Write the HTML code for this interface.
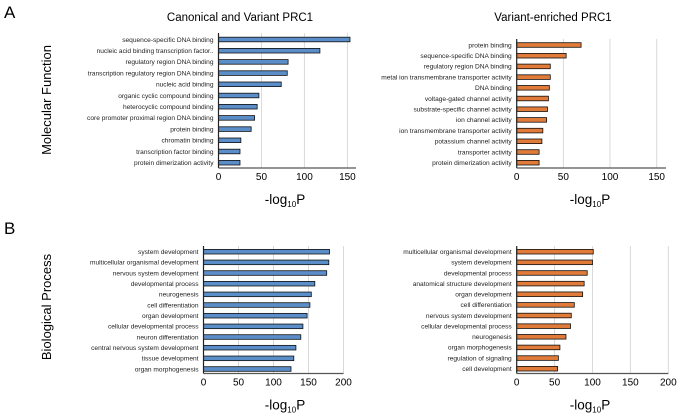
<!DOCTYPE html>
<html><head><meta charset="utf-8"><style>
html,body{margin:0;padding:0;background:#fff;}
svg{display:block;font-family:"Liberation Sans",Arial,sans-serif;}
</style></head><body>
<svg id="fig" width="679" height="417" viewBox="0 0 679 417">
<text x="4" y="18" font-size="17">A</text>
<text x="4" y="234" font-size="17">B</text>
<text transform="translate(51,100) rotate(-90)" text-anchor="middle" font-size="13">Molecular Function</text>
<text transform="translate(51,307) rotate(-90)" text-anchor="middle" font-size="13">Biological Process</text>
<text x="240" y="21" text-anchor="middle" font-size="11.5">Canonical and Variant PRC1</text>
<text x="553" y="21" text-anchor="middle" font-size="11.5">Variant-enriched PRC1</text>
</svg>
<script>
const mfCanonCats = ["sequence-specific DNA binding","nucleic acid binding transcription factor..","regulatory region DNA binding","transcription regulatory region DNA binding","nucleic acid binding","organic cyclic compound binding","heterocyclic compound binding","core promoter proximal region DNA binding","protein binding","chromatin binding","transcription factor binding","protein dimerization activity"];
const mfCanonVals = [153,118,81,80,73,47,45,42,38,26,25,25];
const mfVarCats = ["protein binding","sequence-specific DNA binding","regulatory region DNA binding","metal ion transmembrane transporter activity","DNA binding","voltage-gated channel activity","substrate-specific channel activity","ion channel activity","ion transmembrane transporter activity","potassium channel activity","transporter activity","protein dimerization activity"];
const mfVarVals = [69,53,36,36,35,34,33,32,28,27,24,24];
const bpCanonCats = ["system development","multicellular organismal development","nervous system development","developmental process","neurogenesis","cell differentiation","organ development","cellular developmental process","neuron differentiation","central nervous system development","tissue development","organ morphogenesis"];
const bpCanonVals = [180,179,176,159,154,152,148,142,139,132,129,125];
const bpVarCats = ["multicellular organismal development","system development","developmental process","anatomical structure development","organ development","cell differentiation","nervous system development","cellular developmental process","neurogenesis","organ morphogenesis","regulation of signaling","cell development"];
const bpVarVals = [101,100,93,89,87,76,72,71,65,57,55,54];
const mfTicks = [0,50,100,150];
const bpTicks = [0,50,100,150,200];

const NS="http://www.w3.org/2000/svg";
const svg=document.getElementById('fig');
function mk(tag,attrs){const e=document.createElementNS(NS,tag);for(const k in attrs)e.setAttribute(k,attrs[k]);svg.appendChild(e);return e;}

function chart(id,cats,vals,ticks,cfg){
  const sx=v=>cfg.x0+(v/cfg.max)*(cfg.x1-cfg.x0);
  const step=(cfg.yLast-cfg.yFirst)/(cats.length-1);
  const sy=i=>cfg.yFirst+i*step;
  ticks.forEach(t=>{
    if(t>0){
      const g=mk('line',{x1:sx(t),x2:sx(t),y1:cfg.yTop,y2:cfg.yAxis,stroke:'#d9d9d9','stroke-width':1});
      
      
    }
    const tl=mk('text',{x:sx(t),y:cfg.yAxis+12,'text-anchor':'middle','font-size':10});
    tl.textContent=t;
    
    
  });
  cats.forEach((c,i)=>{
    const b=mk('rect',{x:sx(0),y:sy(i)-2.3,width:sx(vals[i])-sx(0),height:4.6,fill:cfg.color,stroke:'#111','stroke-width':0.8});
    
    
    const l=mk('text',{x:cfg.x0-5,y:sy(i)+2.3,'text-anchor':'end','font-size':6.6,fill:'#222'});
    l.textContent=c;
    
    
  });
  const ya=mk('line',{x1:cfg.x0,x2:cfg.x0,y1:cfg.yTop,y2:cfg.yAxis,stroke:'#222','stroke-width':1.2});
  
  
  const xa=mk('line',{x1:cfg.x0,x2:cfg.x1,y1:cfg.yAxis,y2:cfg.yAxis,stroke:'#555','stroke-width':1.2});
  
  
  const xt=mk('text',{x:cfg.xt,y:cfg.yAxis+36,'text-anchor':'middle','font-size':13.5});
  xt.innerHTML='-log<tspan font-size="8" dy="3">10</tspan><tspan dy="-3">P</tspan>';
  
  
}
chart('mf-canonical',mfCanonCats,mfCanonVals,mfTicks,{x0:218.5,x1:356,max:160,yFirst:39.5,yLast:162.7,yTop:33,yAxis:168,color:'#5b8ec8',xt:285});
chart('mf-variant',mfVarCats,mfVarVals,mfTicks,{x0:516.7,x1:666,max:160,yFirst:45,yLast:162.7,yTop:39,yAxis:168,color:'#e07b39',xt:590});
chart('bp-canonical',bpCanonCats,bpCanonVals,bpTicks,{x0:203.5,x1:343.5,max:200,yFirst:251.7,yLast:369,yTop:246,yAxis:373.5,color:'#5b8ec8',xt:285});
chart('bp-variant',bpVarCats,bpVarVals,bpTicks,{x0:516.7,x1:668.3,max:200,yFirst:251.7,yLast:368.7,yTop:246,yAxis:373.5,color:'#e07b39',xt:590});
</script>
</body></html>
